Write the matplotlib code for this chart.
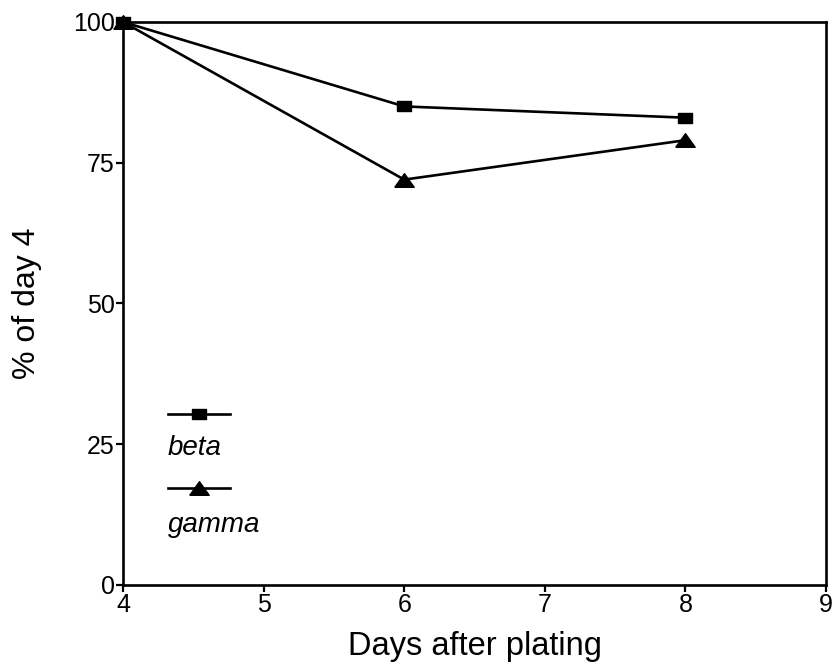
import matplotlib
matplotlib.use("Agg")
import matplotlib.pyplot as plt

plt.rcParams["font.family"] = ["Liberation Sans", "DejaVu Sans"]

days = [4, 6, 8]
beta = [100, 85, 83]
gamma = [100, 72, 79]
x_ticks = [4, 5, 6, 7, 8, 9]
y_ticks = [0, 25, 50, 75, 100]

# slightly wide square and flat triangle, like the scanned figure
SQUARE = [(-1, -0.78), (1, -0.78), (1, 0.78), (-1, 0.78), (-1, -0.78)]
TRI = [(-1, -0.7), (1, -0.7), (0, 0.7), (-1, -0.7)]

fig = plt.figure(figsize=(8.38, 6.68), dpi=100)
ax = fig.add_axes([0.1468, 0.1243, 0.8389, 0.8428])

ax.plot(days, beta, color="black", lw=1.9, marker=SQUARE, ms=10, clip_on=False)
ax.plot(days, gamma, color="black", lw=1.9, marker=TRI, ms=14, clip_on=False)

ax.set_xlim(4, 9)
ax.set_ylim(0, 100)
ax.set_xticks(x_ticks)
ax.set_yticks(y_ticks)
ax.tick_params(direction="out", length=5, width=1.6, labelsize=18, pad=1)
for s in ax.spines.values():
    s.set_linewidth(1.9)

ax.set_xlabel("Days after plating", fontsize=23.5, labelpad=10)
ax.set_ylabel("% of day 4", fontsize=23, labelpad=22)

# hand-made legend, labels below their line samples
tr = ax.transAxes
ax.plot([0.064, 0.152], [0.304, 0.304], transform=tr, color="black", lw=1.9)
ax.plot([0.108], [0.304], transform=tr, color="black", marker=SQUARE, ms=10)
ax.text(0.064, 0.243, "beta", transform=tr, fontsize=20, style="italic",
        va="center", ha="left")
ax.plot([0.064, 0.152], [0.172, 0.172], transform=tr, color="black", lw=1.9)
ax.plot([0.108], [0.172], transform=tr, color="black", marker=TRI, ms=14)
ax.text(0.064, 0.107, "gamma", transform=tr, fontsize=20, style="italic",
        va="center", ha="left")

fig.savefig("out.png", dpi=100)
